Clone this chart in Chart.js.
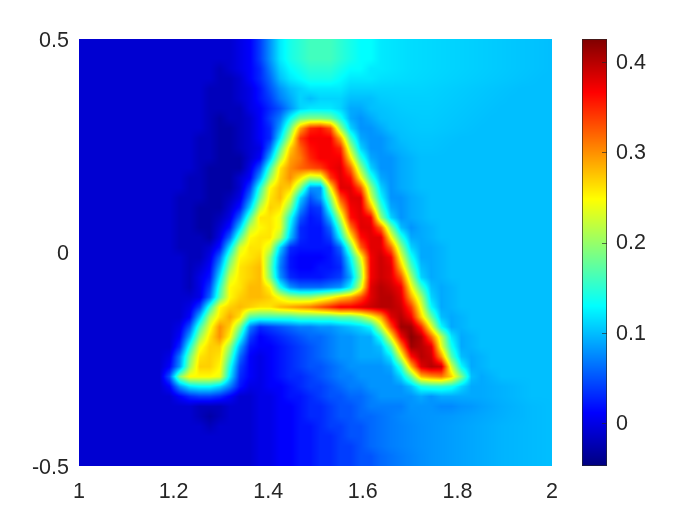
<!DOCTYPE html>
<html lang="en">
<head>
    <meta charset="UTF-8">
    <title>Heat map of the letter A</title>
    <script src="https://cdn.jsdelivr.net/npm/chart.js"></script>
    <style>
        body { margin: 0; background: #fff; }
        #heatChart, #barChart { position: absolute; top: 0; }
        #heatChart { left: 0; }
        #barChart { left: 560px; }
    </style>
</head>
<body>
    <canvas id="heatChart" width="700" height="524"></canvas>
    <canvas id="barChart" width="140" height="524"></canvas>

    <script>
        const xTicks = [1, 1.2, 1.4, 1.6, 1.8, 2];
        const yTicks = [-0.5, 0, 0.5];
        const barTicks = [0, 0.1, 0.2, 0.3, 0.4];
        const barMin = -0.0476;
        const barMax = 0.4255;

        // values x 100: top row is y = 0.5, left column is x = 1
        const gridValues = [
            [-1,-1,-1,-1,-1,-1,-1,-1,-1,-1, -1,-1,-1,-1,-1,-1,0,1,4,8, 12,14,15,16,16,16,15,14,13,13, 12,11.8,11.6,11.4,11.3,11.2,11.1,11,10.9,10.8, 10.7,10.6,10.5,10.4,10.3,10.2,10.1,10],
            [-1,-1,-1,-1,-1,-1,-1,-1,-1,-1, -1,-1,-1,-1,-1,-1,0,1,4,8, 12,14,15,16,16,16,15,14,13,13, 12,11.8,11.6,11.4,11.3,11.2,11.1,11,10.9,10.8, 10.7,10.6,10.5,10.4,10.3,10.2,10.1,10],
            [-1,-1,-1,-1,-1,-1,-1,-1,-1,-1, -1,-1,-1,-1,-1,-1,0,1,4,8, 12,14,15,16,16,16,15,14,13,13, 12,11.8,11.6,11.4,11.3,11.2,11.1,11,10.9,10.8, 10.7,10.6,10.5,10.4,10.3,10.2,10.1,10],
            [-1,-1,-1,-1,-1,-1,-1,-1,-1,-1, -1,-1,-1,-1,-2,-1,0,1,3,7, 11,13,14,15,15,15,14,13,13,12, 12,11.8,11.6,11.4,11.3,11.2,11.1,11,10.9,10.8, 10.7,10.6,10.5,10.4,10.3,10.2,10.1,10],
            [-1,-1,-1,-1,-1,-1,-1,-1,-1,-1, -1,-1,-1,-1,-2,-2,-1,1,3,6, 10,12,13,14,14,14,13,12,12,12, 11.6,11.5,11.4,11.3,11.2,11.1,11,10.9,10.8,10.7, 10.6,10.5,10.4,10.3,10.2,10.1,10,10],
            [-1,-1,-1,-1,-1,-1,-1,-1,-1,-1, -1,-1,-1,-2,-2,-2,-1,0,2,5, 8,10,11,12,12,12,12,11,11,11, 11,11,11,11,11,10.9,10.8,10.7,10.6,10.5, 10.4,10.3,10.2,10.1,10,10,10,10],
            [-1,-1,-1,-1,-1,-1,-1,-1,-1,-1, -1,-1,-1,-2,-2,-2,-1,0,2,4, 7,9,11,10,11,11,11,10,10,10, 10.6,10.7,10.8,10.8,10.8,10.8,10.7,10.6,10.5,10.4, 10.3,10.2,10.1,10,10,10,10,10],
            [-1,-1,-1,-1,-1,-1,-1,-1,-1,-1, -1,-1,-1,-2,-2,-2,-2,0,1,3, 5,8,11,12,12,12,11,9,9,10, 10.2,10.4,10.6,10.7,10.7,10.7,10.6,10.5,10.4,10.3, 10.2,10.1,10,10,10,10,10,10],
            [-1,-1,-1,-1,-1,-1,-1,-1,-1,-1, -1,-1,-1,-2,-3,-2,-2,-1,1,4, 7,13,18,19,19,18,14,9,8,9, 10,10.2,10.4,10.5,10.6,10.6,10.5,10.4,10.3,10.2, 10.1,10,10,10,10,10,10,10],
            [-1,-1,-1,-1,-1,-1,-1,-1,-1,-1, -1,-1,-1,-2,-3,-3,-2,-1,1,3, 9,18,29,35,36,33,20,11,8,8, 9,10,10.2,10.4,10.5,10.5,10.4,10.3,10.2,10.1, 10,10,10,10,10,10,10,10],
            [-1,-1,-1,-1,-1,-1,-1,-1,-1,-1, -1,-1,-2,-2,-3,-3,-2,-1,1,3, 12,22,34,37,37,37,29,16,9,8, 8,9,10,10.2,10.3,10.3,10.2,10.1,10,10, 10,10,10,10,10,10,10,10],
            [-1,-1,-1,-1,-1,-1,-1,-1,-1,-1, -1,-1,-2,-2,-3,-3,-2,-1,0,6, 17,27,32,36,37,37,35,21,11,8, 8,9,9.5,10,10.2,10.2,10.1,10,10,10, 10,10,10,10,10,10,10,10],
            [-1,-1,-1,-1,-1,-1,-1,-1,-1,-1, -1,-1,-2,-2,-3,-3,-3,-1,1,10, 21,29,31,35,37,37,37,26,15,9, 8,8,9,9.5,10,10,10,10,10,10, 10,10,10,10,10,10,10,10],
            [-1,-1,-1,-1,-1,-1,-1,-1,-1,-1, -1,-1,-2,-3,-3,-3,-3,0,5,16, 26,30,32,33,34,37,38,32,20,11, 8,8,9,9.5,10,10,10,10,10,10, 10,10,10,10,10,10,10,10],
            [-1,-1,-1,-1,-1,-1,-1,-1,-1,-1, -1,-2,-2,-3,-3,-3,-1,1,9,20, 27,30,26,21,22,34,38,36,25,15, 9,8,9,9.5,10,10,10,10,10,10, 10,10,10,10,10,10,10,10],
            [-1,-1,-1,-1,-1,-1,-1,-1,-1,-1, -1,-2,-2,-3,-3,-3,-1,4,15,25, 28,27,19,8,8,25,38,38,33,20, 11,8,9,9.5,10,10,10,10,10,10, 10,10,10,10,10,10,10,10],
            [-1,-1,-1,-1,-1,-1,-1,-1,-1,-1, -2,-2,-2,-3,-3,-2,0,7,18,26, 28,23,11,5,8,19,33,38,38,23, 13,8,8,9,9.5,10,10,10,10,10, 10,10,10,10,10,10,10,10],
            [-1,-1,-1,-1,-1,-1,-1,-1,-1,-1, -2,-2,-3,-3,-3,-1,2,11,22,27, 26,19,8,3,4,15,28,37,38,29, 16,9,8,9,9.5,10,10,10,10,10, 10,10,10,10,10,10,10,10],
            [-1,-1,-1,-1,-1,-1,-1,-1,-1,-1, -2,-2,-3,-3,-2,0,6,17,26,26, 24,14,5,2,3,10,22,36,38,37, 20,11,8,9,9.5,10,10,10,10,10, 10,10,10,10,10,10,10,10],
            [-1,-1,-1,-1,-1,-1,-1,-1,-1,-1, -2,-2,-3,-3,-1,2,11,22,25,26, 24,12,3,2,2,6,17,31,38,38, 32,19,10,8,9,9.5,10,10,10,10, 10,10,10,10,10,10,10,10],
            [-1,-1,-1,-1,-1,-1,-1,-1,-1,-1, -2,-2,-2,-3,0,6,17,25,26,26, 21,10,3,2,2,4,13,25,36,38, 38,25,15,9,9,9.5,10,10,10,10, 10,10,10,10,10,10,10,10],
            [-1,-1,-1,-1,-1,-1,-1,-1,-1,-1, -2,-2,-2,-1,2,12,23,26,26,23, 11,3,2,2,2,2,6,18,32,38, 38,32,20,11,9,9,9.5,10,10,10, 10,10,10,10,10,10,10,10],
            [-1,-1,-1,-1,-1,-1,-1,-1,-1,-1, -1,-2,-2,0,6,17,25,26,27,19, 8,2,1,1,1,2,4,13,24,37, 39,37,24,14,9,9,9.5,10,10,10, 10,10,10,10,10,10,10,10],
            [-1,-1,-1,-1,-1,-1,-1,-1,-1,-1, -1,-2,-1,1,9,20,26,27,28,18, 7,2,1,1,2,2,3,11,21,37, 39,38,28,17,10,9,9.5,10,10,10, 10,10,10,10,10,10,10,10],
            [-1,-1,-1,-1,-1,-1,-1,-1,-1,-1, -1,-2,0,2,12,23,26,27,28,19, 8,3,2,2,2,3,4,9,20,37, 39,38,33,21,11,9,9.5,10,10,10, 10,10,10,10,10,10,10,10],
            [-1,-1,-1,-1,-1,-1,-1,-1,-1,-1, -1,-2,0,4,15,25,26,28,28,25, 14,8,6,6,6,7,8,13,23,38, 40,39,37,25,16,10,9,9.5,10,10, 10,10,10,10,10,10,10,10],
            [-1,-1,-1,-1,-1,-1,-1,-1,-1,-1, -1,-1,0,6,17,25,27,28,28,27, 24,21,20,20,22,24,27,29,33,38, 40,40,38,29,21,11,9,9.5,10,10, 10,10,10,10,10,10,10,10],
            [-1,-1,-1,-1,-1,-1,-1,-1,-1,-1, -1,0,4,15,25,27,28,27,26,26, 28,29,30,31,33,35,37,37,38,39, 40,40,39,34,24,13,9,9.5,10,10, 10,10,10,10,10,10,10,10],
            [-1,-1,-1,-1,-1,-1,-1,-1,-1,-1, -1,1,10,21,26,29,26,17,16,16, 16,16,17,17,17,17,18,18,20,24, 29,38,40,37,27,18,10,9,9.5,10, 10,10,10,10,10,10,10,10],
            [-1,-1,-1,-1,-1,-1,-1,-1,-1,-1, 0,5,16,24,30,27,19,7,3,4, 5,6,7,7,8,8,9,10,11,13, 22,33,41,41,35,24,13,9,9.5,10, 10,10,10,10,10,10,10,10],
            [-1,-1,-1,-1,-1,-1,-1,-1,-1,-1, 1,9,20,26,30,25,14,4,1,2, 3,4,5,6,6,7,8,8,9,9, 14,25,37,42,40,32,22,12,9,9.5, 10,10,10,10,10,10,10,10],
            [-1,-1,-1,-1,-1,-1,-1,-1,-1,-1, 3,14,24,27,27,20,9,2,1,1, 2,3,4,5,6,7,8,8,9,9, 10,17,30,41,40,38,24,14,9,9.5, 10,10,10,10,10,10,10,10],
            [-1,-1,-1,-1,-1,-1,-1,-1,-1,0, 7,18,26,27,26,17,6,1,0,1, 2,3,4,5,6,7,8,8,9,9, 9,12,23,36,40,39,30,17,10,9, 9.5,10,10,10,10,10,10,10],
            [-1,-1,-1,-1,-1,-1,-1,-1,-1,1, 8,20,27,27,25,14,4,1,0,1, 2,3,4,5,5,6,7,8,8,8, 8,9,15,28,38,40,39,23,13,9, 9.5,10,10,10,10,10,10,10],
            [-1,-1,-1,-1,-1,-1,-1,-1,-1,5, 19,25,25,25,24,12,3,1,0,1, 2,3,3,4,5,6,7,7,8,8, 8,8,11,18,28,30,31,27,19,10, 9,9.5,10,10,10,10,10,10],
            [-1,-1,-1,-1,-1,-1,-1,-1,-1,1, 8,12,13,13,11,7,2,0,0,1, 1,2,3,4,4,5,6,7,7,8, 8,8,8,10,14,15,15,14,11,9, 9,9.2,9.4,9.6,9.8,10,10,10],
            [-1,-1,-1,-1,-1,-1,-1,-1,-1,-1, 1,3,4,4,3,1,-1,-1,0,0, 1,2,2,3,4,5,5,6,6,7, 8,8,8,8,9,8,9,9,9,9, 9,9.2,9.4,9.6,9.8,10,10,10],
            [-1,-1,-1,-1,-1,-1,-1,-1,-1,-1, -1,-1,-2,-2,-2,-1,-1,-1,0,0, 1,1,2,3,3,4,5,5,6,7, 7,7,7,8,8,8,7.5,7.5,8,8.2, 8.6,8.9,9.2,9.4,9.6,9.8,9.9,10],
            [-1,-1,-1,-1,-1,-1,-1,-1,-1,-1, -1,-1,-2,-3,-2,-1,-1,-1,0,0, 1,1,2,3,3,4,5,5,6,6, 6.5,7,7.5,7.8,8,8.1,8.2,8.3,8.5,8.7, 8.9,9.1,9.3,9.5,9.6,9.8,9.9,10],
            [-1,-1,-1,-1,-1,-1,-1,-1,-1,-1, -1,-1,-1,-2,-1,-1,-1,-1,0,0, 1,1,2,2,3,4,4,5,5,6, 6.5,7,7.3,7.6,7.9,8.1,8.3,8.5,8.7,8.9, 9.1,9.3,9.5,9.6,9.7,9.8,9.9,10],
            [-1,-1,-1,-1,-1,-1,-1,-1,-1,-1, -1,-1,-1,-1,-1,-1,-1,-1,0,0, 1,1,2,2,3,3,4,5,5,6, 6.5,7,7.3,7.6,7.9,8.1,8.3,8.5,8.7,8.9, 9.1,9.3,9.5,9.6,9.7,9.8,9.9,10],
            [-1,-1,-1,-1,-1,-1,-1,-1,-1,-1, -1,-1,-1,-1,-1,-1,-1,-1,0,0, 1,1,2,2,3,3,4,4,5,6, 6.5,7,7.3,7.6,7.9,8.1,8.3,8.5,8.7,8.9, 9.1,9.3,9.5,9.6,9.7,9.8,9.9,10],
            [-1,-1,-1,-1,-1,-1,-1,-1,-1,-1, -1,-1,-1,-1,-1,-1,-1,-1,0,0, 1,1,2,2,3,3,4,4,5,5, 6,6.5,7,7.4,7.8,8.1,8.3,8.5,8.7,8.9, 9.1,9.3,9.5,9.6,9.7,9.8,9.9,10],
            [-1,-1,-1,-1,-1,-1,-1,-1,-1,-1, -1,-1,-1,-1,-1,-1,-1,-1,0,0, 1,1,2,2,3,3,4,4,5,5, 6,6.5,7,7.4,7.8,8.1,8.3,8.5,8.7,8.9, 9.1,9.3,9.5,9.6,9.7,9.8,9.9,10]
        ];

        function jet(v) {
            const t = Math.min(1, Math.max(0, (v - barMin) / (barMax - barMin)));
            const band = c => Math.min(1, Math.max(0, 1.5 - Math.abs(4 * t - c))) * 255;
            return [band(3), band(2), band(1)];
        }

        // value between the four nearest grid nodes, same as shading interp
        function gridAt(xv, yv) {
            const rows = gridValues.length, cols = gridValues[0].length;
            const fx = Math.min(cols - 1.001, Math.max(0, (xv - 1) * (cols - 1)));
            const fy = Math.min(rows - 1.001, Math.max(0, (0.5 - yv) * (rows - 1)));
            const i = Math.floor(fx), j = Math.floor(fy);
            const a = fx - i, b = fy - j;
            const top = gridValues[j][i] * (1 - a) + gridValues[j][i + 1] * a;
            const low = gridValues[j + 1][i] * (1 - a) + gridValues[j + 1][i + 1] * a;
            return (top * (1 - b) + low * b) / 100;
        }

        const heatPlugin = {
            id: 'heat',
            beforeDatasetsDraw(chart) {
                const { left, top, width, height } = chart.chartArea;
                const off = document.createElement('canvas');
                off.width = width;
                off.height = height;
                const offCtx = off.getContext('2d');
                const img = offCtx.createImageData(width, height);
                for (let py = 0; py < height; py++) {
                    const yv = chart.scales.y.getValueForPixel(top + py + 0.5);
                    for (let px = 0; px < width; px++) {
                        const xv = chart.scales.x.getValueForPixel(left + px + 0.5);
                        const c = jet(gridAt(xv, yv));
                        const k = (py * width + px) * 4;
                        img.data[k] = c[0];
                        img.data[k + 1] = c[1];
                        img.data[k + 2] = c[2];
                        img.data[k + 3] = 255;
                    }
                }
                offCtx.putImageData(img, 0, 0);
                chart.ctx.drawImage(off, left, top);
            }
        };

        const barPlugin = {
            id: 'colorbar',
            beforeDatasetsDraw(chart) {
                const { left, right, top, bottom } = chart.chartArea;
                const ctx = chart.ctx;
                for (let py = top; py < bottom; py++) {
                    const c = jet(chart.scales.y.getValueForPixel(py + 0.5));
                    ctx.fillStyle = `rgb(${c[0]},${c[1]},${c[2]})`;
                    ctx.fillRect(left, py, right - left, 1);
                }
                ctx.strokeStyle = 'rgba(38,38,38,0.65)';
                ctx.lineWidth = 1;
                ctx.strokeRect(left + 0.5, top + 0.5, right - left - 1, bottom - top - 1);
                barTicks.forEach(v => {
                    const py = Math.round(chart.scales.y.getPixelForValue(v)) + 0.5;
                    ctx.beginPath();
                    ctx.moveTo(right - 5, py);
                    ctx.lineTo(right, py);
                    ctx.stroke();
                });
            }
        };

        const tickFont = { family: '"Liberation Sans", Arial, sans-serif', size: 21.5 };
        const tickColor = '#262626';

        new Chart(document.getElementById('heatChart').getContext('2d'), {
            type: 'scatter',
            data: { datasets: [{ data: [], pointRadius: 0 }] },
            plugins: [heatPlugin],
            options: {
                responsive: false,
                animation: false,
                layout: { padding: { top: 39, right: 148, left: 0, bottom: 0 } },
                plugins: { legend: { display: false }, tooltip: { enabled: false } },
                scales: {
                    x: {
                        type: 'linear',
                        min: 1,
                        max: 2,
                        afterBuildTicks: axis => { axis.ticks = xTicks.map(value => ({ value })); },
                        afterFit: axis => { axis.height = 58; },
                        grid: { display: false },
                        border: { display: false },
                        ticks: { color: tickColor, font: tickFont, padding: 5, maxRotation: 0, callback: v => String(v) }
                    },
                    y: {
                        type: 'linear',
                        min: -0.5,
                        max: 0.5,
                        afterBuildTicks: axis => { axis.ticks = yTicks.map(value => ({ value })); },
                        afterFit: axis => { axis.width = 79; },
                        grid: { display: false },
                        border: { display: false },
                        ticks: { color: tickColor, font: tickFont, padding: 2, labelOffset: 2, callback: v => String(v) }
                    }
                }
            }
        });

        new Chart(document.getElementById('barChart').getContext('2d'), {
            type: 'scatter',
            data: { datasets: [{ data: [], pointRadius: 0 }] },
            plugins: [barPlugin],
            options: {
                responsive: false,
                animation: false,
                layout: { padding: { top: 39, left: 22, bottom: 58, right: 0 } },
                plugins: { legend: { display: false }, tooltip: { enabled: false } },
                scales: {
                    x: { display: false, min: 0, max: 1 },
                    y: {
                        type: 'linear',
                        position: 'right',
                        min: barMin,
                        max: barMax,
                        afterBuildTicks: axis => { axis.ticks = barTicks.map(value => ({ value })); },
                        afterFit: axis => { axis.width = 93; },
                        grid: { display: false },
                        border: { display: false },
                        ticks: { color: tickColor, font: tickFont, padding: 1, labelOffset: 1, callback: v => String(v) }
                    }
                }
            }
        });
    </script>
</body>
</html>
